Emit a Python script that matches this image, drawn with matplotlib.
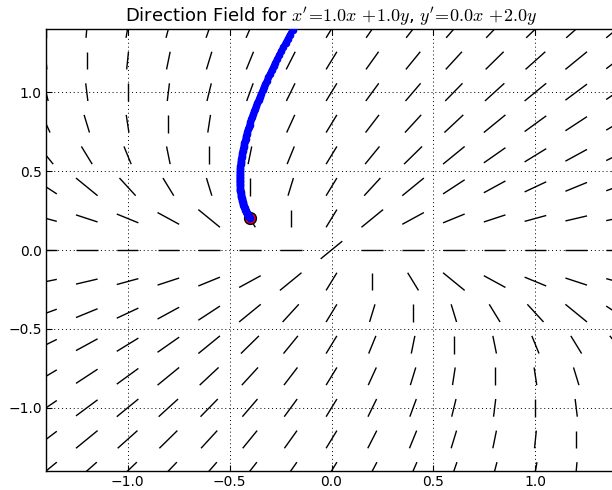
import numpy as np
import matplotlib
matplotlib.use("Agg")
import matplotlib.pyplot as plt

# system x' = a11 x + a12 y, y' = a21 x + a22 y
coef = [[1.0, 1.0],
        [0.0, 2.0]]
start_point = [-0.4, 0.2]

grid_x = np.linspace(-1.4, 1.4, 15)
grid_y = np.linspace(-1.4, 1.4, 15)
tick_vals = [-1.0, -0.5, 0.0, 0.5, 1.0]

plt.rcParams['mathtext.fontset'] = 'cm'
plt.rcParams['font.family'] = 'DejaVu Sans'


def field(x, y):
    return (coef[0][0] * x + coef[0][1] * y,
            coef[1][0] * x + coef[1][1] * y)


fig = plt.figure(figsize=(6.12, 4.9), dpi=100)
ax = fig.add_axes([46 / 612, 19 / 490, 571 / 612, 442 / 490])

# direction segments, scaled so the larger component has a fixed length
hx, hy = 0.053, 0.056
for x in grid_x:
    for y in grid_y:
        u, v = field(x, y)
        m = max(abs(u), abs(v))
        if m < 1e-12:
            u, v, m = 1.0, 1.0, 1.0
        dx, dy = hx * u / m, hy * v / m
        ax.plot([x - dx, x + dx], [y - dy, y + dy], color='k', lw=1.0,
                solid_capstyle='butt', zorder=2)

# trajectory from the start point (RK4)
dt = 0.01
px, py = [start_point[0]], [start_point[1]]
x, y = start_point
while abs(y) < 1.45 and abs(x) < 1.45 and len(px) < 2000:
    k1 = field(x, y)
    k2 = field(x + dt / 2 * k1[0], y + dt / 2 * k1[1])
    k3 = field(x + dt / 2 * k2[0], y + dt / 2 * k2[1])
    k4 = field(x + dt * k3[0], y + dt * k3[1])
    x = x + dt / 6 * (k1[0] + 2 * k2[0] + 2 * k3[0] + k4[0])
    y = y + dt / 6 * (k1[1] + 2 * k2[1] + 2 * k3[1] + k4[1])
    px.append(x)
    py.append(y)

ax.plot([start_point[0]], [start_point[1]], 'o', color='red', mec='k',
        mew=1.0, ms=8.5, zorder=3)
ax.plot(px, py, '-', color='blue', lw=4.5, marker='o', ms=4.5, mec='blue',
        zorder=4)

ax.set_xlim(-1.4, 1.4)
ax.set_ylim(-1.4, 1.4)
ax.set_xticks(tick_vals)
ax.set_yticks(tick_vals)
ax.grid(True, color='k', linestyle=(0, (1, 3)), linewidth=0.7)
ax.tick_params(direction='in', length=4, top=True, right=True, labelsize=10)
ax.tick_params(axis='x', pad=3)
ax.tick_params(axis='y', pad=3)
for s in ax.spines.values():
    s.set_linewidth(1.0)

ax.set_title("Direction Field for $x'\\!=\\!1.0x\\,+\\!1.0y$, "
             "$y'\\!=\\!0.0x\\,+\\!2.0y$", fontsize=13, pad=5)

fig.savefig("out.png", dpi=100)
